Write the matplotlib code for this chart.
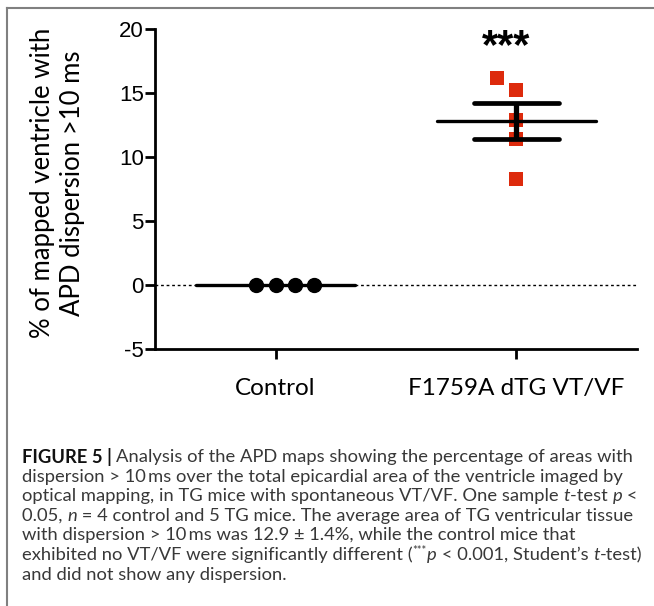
import numpy as np
from matplotlib import pyplot as plt
from matplotlib.lines import Line2D

plt.rcParams['axes.unicode_minus'] = False

# data
groups = ['Control', 'F1759A dTG VT/VF']
control_vals = [0.0, 0.0, 0.0, 0.0]
tg_vals = [16.2, 15.2, 12.9, 11.4, 8.3]
# horizontal scatter of the points (as placed in the original)
control_jitter = [-0.08, 0.0, 0.08, 0.16]
tg_jitter = [-0.08, 0.0, 0.0, 0.0, 0.0]
yticks = [-5, 0, 5, 10, 15, 20]

W, H = 654, 606
fig = plt.figure(figsize=(W / 100, H / 100), dpi=100)
ax = fig.add_axes([155 / W, 1 - 349 / H, 482 / W, 320 / H])

ax.axhline(0, color='black', lw=1, ls=(0, (2, 2)), zorder=1)

red = '#DD2A0C'
for i, (vals, jit) in enumerate([(control_vals, control_jitter), (tg_vals, tg_jitter)]):
    x = i + 1
    vals = np.array(vals)
    mean = vals.mean()
    sem = vals.std(ddof=1) / np.sqrt(len(vals))
    ax.hlines(mean, x - 0.33, x + 0.33, color='black', lw=2.4, capstyle='round', zorder=3)
    if sem > 0:
        ax.vlines(x, mean - sem, mean + sem, color='black', lw=3.8, zorder=4)
        ax.hlines([mean - sem, mean + sem], x - 0.175, x + 0.175, color='black', lw=3.4,
                  capstyle='round', zorder=4)
    if i == 0:
        ax.plot(x + np.array(jit), vals, 'o', color='black', ms=10, zorder=5, clip_on=False)
    else:
        ax.plot(x + np.array(jit), vals, 's', color=red, ms=9.5, mew=0, zorder=2)

ax.text(1.956, 18.6, '***', ha='center', va='center', fontsize=30, fontweight='bold',
        family='Liberation Sans')

ax.set_xlim(0.5, 2.5)
ax.set_ylim(-5, 20)
ax.set_yticks(yticks)
ax.set_xticks([1, 2])
ax.set_xticklabels(groups, family='Lato', fontsize=17.5)
for lab in ax.get_yticklabels():
    lab.set_family('Liberation Sans')
    lab.set_fontsize(16)
for s in ['top', 'right']:
    ax.spines[s].set_visible(False)
for s in ['left', 'bottom']:
    ax.spines[s].set_linewidth(2)
ax.tick_params(direction='out', length=7, width=2, pad=1)
ax.tick_params(axis='x', pad=14)

fig.text(58 / W, 1 - 183 / H, '% of mapped ventricle with\nAPD dispersion >10 ms',
         rotation=90, ha='center', va='center', family='Lato', fontsize=18.5, linespacing=1.25)

# frame around the figure panel
gray = '#808080'
fig.add_artist(Line2D([7 / W, 7 / W], [0, 1 - 7.5 / H], transform=fig.transFigure, color=gray, lw=1.5))
fig.add_artist(Line2D([7 / W, 1], [1 - 7.5 / H, 1 - 7.5 / H], transform=fig.transFigure, color=gray, lw=1.5))

# caption
fam = ['Lato', 'DejaVu Sans']
N = dict(weight='normal')
B = dict(weight='bold', color='#111111')
I = dict(weight='normal', style='italic')
SUP = dict(weight='normal', sup=True)
ts = '\u2009'
caption = [
    [('FIGURE 5 | ', B), ('Analysis of the APD maps showing the percentage of areas with', N)],
    [('dispersion > 10' + ts + 'ms over the total epicardial area of the ventricle imaged by', N)],
    [('optical mapping, in TG mice with spontaneous VT/VF. One sample ', N), ('t', I), ('-test ', N),
     ('p', I), (' <', N)],
    [('0.05, ', N), ('n', I), (' = 4 control and 5 TG mice. The average area of TG ventricular tissue', N)],
    [('with dispersion > 10' + ts + 'ms was 12.9 \u00b1 1.4%, while the control mice that', N)],
    [('exhibited no VT/VF were significantly different (', N), ('***', SUP), ('p', I),
     (' < 0.001, Student\u2019s ', N), ('t', I), ('-test)', N)],
    [('and did not show any dispersion.', N)],
]

renderer = fig.canvas.get_renderer()


def put_line(y, runs, size):
    x = 22
    made = []
    for s, st in runs:
        st = dict(st)
        sup = st.pop('sup', False)
        fs = size * 0.6 if sup else size
        yy = y - size * 0.35 if sup else y
        t = fig.text(x / W, 1 - yy / H, s, fontsize=fs, va='center', ha='left', family=fam,
                     color=st.pop('color', '#383838'), **st)
        made.append(t)
        x += t.get_window_extent(renderer).width
    return x, made


# fit the first line to the width used in the original
w, tmp = put_line(0, caption[0], 10)
for t in tmp:
    t.remove()
size = 10 * (633 - 22) / (w - 22)

y0, dy = 457, 19.6
for k, runs in enumerate(caption):
    put_line(y0 + k * dy, runs, size)

fig.savefig('out.png', dpi=100)
